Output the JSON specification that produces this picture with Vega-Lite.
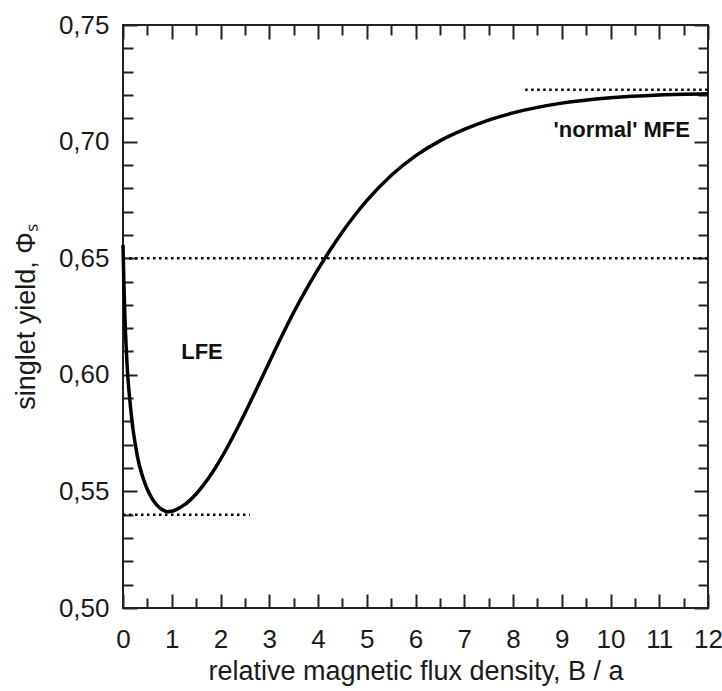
{
  "$schema": "https://vega.github.io/schema/vega-lite/v6.json",
  "width": 585,
  "height": 583,
  "autosize": {"type": "none"},
  "padding": {"left": 123, "top": 25, "right": 14, "bottom": 83},
  "background": "white",
  "datasets": {
    "curve": [
      {"B": 0, "phi": 0.6557},
      {"B": 0.02, "phi": 0.638},
      {"B": 0.04, "phi": 0.624},
      {"B": 0.06, "phi": 0.614},
      {"B": 0.08, "phi": 0.6055},
      {"B": 0.1, "phi": 0.599},
      {"B": 0.15, "phi": 0.587},
      {"B": 0.2, "phi": 0.5775},
      {"B": 0.25, "phi": 0.5705},
      {"B": 0.3, "phi": 0.5645},
      {"B": 0.4, "phi": 0.5565},
      {"B": 0.5, "phi": 0.5508},
      {"B": 0.6, "phi": 0.5468},
      {"B": 0.7, "phi": 0.544},
      {"B": 0.8, "phi": 0.5422},
      {"B": 0.9, "phi": 0.5413},
      {"B": 1.0, "phi": 0.5415},
      {"B": 1.1, "phi": 0.5423},
      {"B": 1.25, "phi": 0.5441},
      {"B": 1.5, "phi": 0.5489},
      {"B": 1.75, "phi": 0.5555},
      {"B": 2.0, "phi": 0.5637},
      {"B": 2.25, "phi": 0.5732},
      {"B": 2.5, "phi": 0.5835},
      {"B": 2.75, "phi": 0.5943},
      {"B": 3.0, "phi": 0.6054},
      {"B": 3.25, "phi": 0.6163},
      {"B": 3.5, "phi": 0.6267},
      {"B": 3.75, "phi": 0.6363},
      {"B": 4.0, "phi": 0.6452},
      {"B": 4.25, "phi": 0.6535},
      {"B": 4.5, "phi": 0.6612},
      {"B": 4.75, "phi": 0.6683},
      {"B": 5.0, "phi": 0.6747},
      {"B": 5.5, "phi": 0.6855},
      {"B": 6.0, "phi": 0.6939},
      {"B": 6.5, "phi": 0.7003},
      {"B": 7.0, "phi": 0.7052},
      {"B": 7.5, "phi": 0.7092},
      {"B": 8.0, "phi": 0.7123},
      {"B": 9.0, "phi": 0.7165},
      {"B": 10.0, "phi": 0.7188},
      {"B": 11.0, "phi": 0.72},
      {"B": 12.0, "phi": 0.7205}
    ],
    "refs": [
      {"B": 0, "B2": 2.6, "phi": 0.54},
      {"B": 0, "B2": 12, "phi": 0.65},
      {"B": 8.25, "B2": 12, "phi": 0.7222}
    ],
    "notes": [
      {"B": 1.62, "phi": 0.6098, "label": "LFE", "kind": "left"},
      {"B": 11.63, "phi": 0.705, "label": "'normal' MFE", "kind": "right"}
    ]
  },
  "layer": [
    {
      "data": {"name": "curve"},
      "mark": {"type": "line", "color": "black", "strokeWidth": 3.5, "interpolate": "monotone"},
      "encoding": {
        "x": {"field": "B", "type": "quantitative", "scale": {"domain": [0, 12], "nice": false, "zero": false},
          "axis": {"orient": "bottom", "values": [0,1,2,3,4,5,6,7,8,9,10,11,12], "tickSize": -14, "labelPadding": 32, "labelFlush": false, "labelOverlap": false,
            "title": "relative magnetic flux density, B / a", "titlePadding": 6}},
        "y": {"field": "phi", "type": "quantitative", "scale": {"domain": [0.5, 0.75], "nice": false, "zero": false},
          "axis": {"orient": "left", "values": [0.5,0.55,0.6,0.65,0.7,0.75], "tickSize": -14, "labelPadding": 28, "labelFlush": false, "labelOverlap": false,
            "labelExpr": "replace(format(datum.value, '.2f'), '.', ',')",
            "title": "singlet yield, Φₛ", "titlePadding": 18}}
      }
    },
    {
      "data": {"name": "refs"},
      "mark": {"type": "rule", "color": "black", "strokeWidth": 2.5, "strokeDash": [2.5, 3.5]},
      "encoding": {
        "x": {"field": "B", "type": "quantitative",
          "axis": {"orient": "bottom", "values": [0.5,1.5,2.5,3.5,4.5,5.5,6.5,7.5,8.5,9.5,10.5,11.5], "tickSize": -10, "labels": false, "title": null}},
        "x2": {"field": "B2"},
        "y": {"field": "phi", "type": "quantitative",
          "axis": {"orient": "left", "values": [0.51,0.52,0.53,0.54,0.56,0.57,0.58,0.59,0.61,0.62,0.63,0.64,0.66,0.67,0.68,0.69,0.71,0.72,0.73,0.74], "tickSize": -10, "labels": false, "title": null}}
      }
    },
    {
      "data": {"name": "notes"},
      "transform": [{"filter": "datum.kind === 'left'"}],
      "mark": {"type": "text", "font": "Liberation Sans", "fontSize": 22, "fontWeight": "bold", "align": "center", "baseline": "middle", "color": "#111"},
      "encoding": {
        "x": {"field": "B", "type": "quantitative",
          "axis": {"orient": "top", "values": [0,1,2,3,4,5,6,7,8,9,10,11,12], "tickSize": -14, "labels": false, "title": null}},
        "y": {"field": "phi", "type": "quantitative",
          "axis": {"orient": "right", "values": [0.5,0.55,0.6,0.65,0.7,0.75], "tickSize": -14, "labels": false, "title": null}},
        "text": {"field": "label"}
      }
    },
    {
      "data": {"name": "notes"},
      "transform": [{"filter": "datum.kind === 'right'"}],
      "mark": {"type": "text", "font": "Liberation Sans", "fontSize": 22, "fontWeight": "bold", "align": "right", "baseline": "middle", "color": "#111"},
      "encoding": {
        "x": {"field": "B", "type": "quantitative",
          "axis": {"orient": "top", "values": [0.5,1.5,2.5,3.5,4.5,5.5,6.5,7.5,8.5,9.5,10.5,11.5], "tickSize": -10, "labels": false, "title": null}},
        "y": {"field": "phi", "type": "quantitative",
          "axis": {"orient": "right", "values": [0.51,0.52,0.53,0.54,0.56,0.57,0.58,0.59,0.61,0.62,0.63,0.64,0.66,0.67,0.68,0.69,0.71,0.72,0.73,0.74], "tickSize": -10, "labels": false, "title": null}},
        "text": {"field": "label"}
      }
    }
  ],
  "resolve": {"axis": {"x": "independent", "y": "independent"}},
  "config": {
    "view": {"stroke": "#222", "strokeWidth": 2},
    "axis": {
      "grid": false,
      "domain": false,
      "labelFont": "Liberation Sans",
      "titleFont": "Liberation Sans",
      "labelFontSize": 26,
      "titleFontSize": 27,
      "titleFontWeight": "normal",
      "labelColor": "#1a1a1a",
      "titleColor": "#1a1a1a",
      "tickColor": "#222",
      "tickWidth": 2
    }
  }
}
